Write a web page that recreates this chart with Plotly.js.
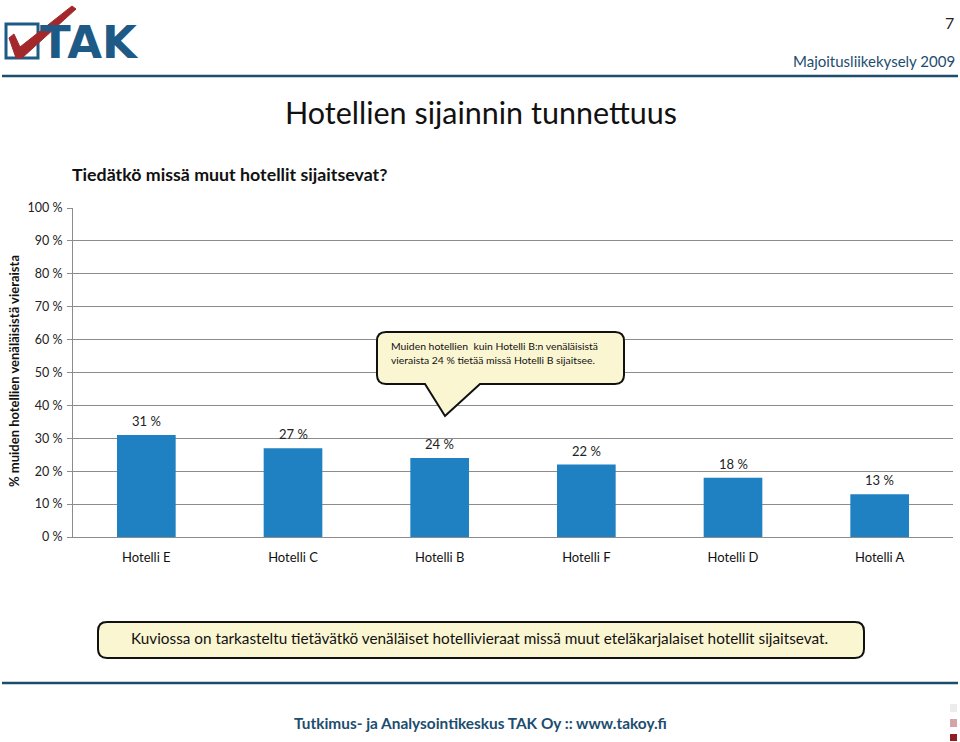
<!DOCTYPE html>
<html>
<head>
<meta charset="utf-8">
<script src="https://cdn.plot.ly/plotly-3.0.1.min.js"></script>
<style>html,body{margin:0;padding:0;background:#fff;}#chart{width:960px;height:742px;}</style>
</head>
<body>
<div id="chart"></div>
<script>
// ---- data ----
const categories = ["Hotelli E", "Hotelli C", "Hotelli B", "Hotelli F", "Hotelli D", "Hotelli A"];
const values = [31, 27, 24, 22, 18, 13];
const yTickVals = [0, 10, 20, 30, 40, 50, 60, 70, 80, 90, 100];
const yTickText = ["0 %", "10 %", "20 %", "30 %", "40 %", "50 %", "60 %", "70 %", "80 %", "90 %", "100 %"];
const pageTitle = "Hotellien sijainnin tunnettuus";
const question = "Tiedätkö missä muut hotellit sijaitsevat?";
const yTitle = "% muiden hotellien venäläisistä vieraista";
const calloutText = "Muiden hotellien  kuin Hotelli B:n venäläisistä<br>vieraista 24 % tietää missä Hotelli B sijaitsee.";
const noteText = "Kuviossa on tarkasteltu tietävätkö venäläiset hotellivieraat missä muut eteläkarjalaiset hotellit sijaitsevat.";
const footerText = "Tutkimus- ja Analysointikeskus TAK Oy :: www.takoy.fi";
const surveyText = "Majoitusliikekysely 2009";
const pageNo = "7";

// ---- geometry helpers (pixel -> paper) ----
const W = 960, H = 742;
const L = 73, R = 953, T = 208, B = 537;
const px = x => (x - L) / (R - L);
const py = y => (B - y) / (B - T);
const P = (x, y) => px(x).toFixed(5) + "," + py(y).toFixed(5);

function roundRect(x0, y0, x1, y1, r) {
  return "M" + P(x0 + r, y0) + " L" + P(x1 - r, y0) + " Q" + P(x1, y0) + " " + P(x1, y0 + r) +
    " L" + P(x1, y1 - r) + " Q" + P(x1, y1) + " " + P(x1 - r, y1) +
    " L" + P(x0 + r, y1) + " Q" + P(x0, y1) + " " + P(x0, y1 - r) +
    " L" + P(x0, y0 + r) + " Q" + P(x0, y0) + " " + P(x0 + r, y0) + " Z";
}
function callout(x0, y0, x1, y1, r, b0, b1, tx, ty) {
  return "M" + P(x0 + r, y0) + " L" + P(x1 - r, y0) + " Q" + P(x1, y0) + " " + P(x1, y0 + r) +
    " L" + P(x1, y1 - r) + " Q" + P(x1, y1) + " " + P(x1 - r, y1) +
    " L" + P(b1, y1) + " L" + P(tx, ty) + " L" + P(b0, y1) +
    " L" + P(x0 + r, y1) + " Q" + P(x0, y1) + " " + P(x0, y1 - r) +
    " L" + P(x0, y0 + r) + " Q" + P(x0, y0) + " " + P(x0 + r, y0) + " Z";
}

const FONT = "Lato, 'Open Sans', sans-serif";
const DARK = "#1d4d6e";

const trace = {
  type: "bar",
  x: categories,
  y: values,
  marker: {color: "#1f80c2"},
  hoverinfo: "x+y"
};

const shapes = [
  // header & footer rules
  {type: "line", xref: "paper", yref: "paper", x0: px(2), x1: px(958), y0: py(76), y1: py(76), line: {color: DARK, width: 2.5}},
  {type: "line", xref: "paper", yref: "paper", x0: px(2), x1: px(958), y0: py(683), y1: py(683), line: {color: DARK, width: 2.5}},
  // logo box
  {type: "rect", xref: "paper", yref: "paper", x0: px(6), x1: px(38), y0: py(24), y1: py(58), line: {color: "#1e5a86", width: 3}, fillcolor: "rgba(0,0,0,0)"},
  // logo check mark
  {type: "path", xref: "paper", yref: "paper",
   path: "M" + P(9, 38) + " L" + P(14, 34) + " L" + P(20, 47) + " L" + P(72, 6) + " L" + P(76, 9) + " L" + P(22, 58) + " L" + P(16, 58) + " Z",
   fillcolor: "#a3282c", line: {color: "#a3282c", width: 1}},
  // callout
  {type: "path", xref: "paper", yref: "paper", path: callout(377, 332, 624, 384, 9, 425, 480, 445, 416),
   fillcolor: "#fbf6d2", line: {color: "#111", width: 2}},
  // note box
  {type: "path", xref: "paper", yref: "paper", path: roundRect(98, 622, 864, 658, 9),
   fillcolor: "#fbf6d2", line: {color: "#111", width: 2}},
  // decorative squares
  {type: "rect", xref: "paper", yref: "paper", x0: px(950), x1: px(957), y0: py(704), y1: py(712), fillcolor: "#ececec", line: {width: 0}},
  {type: "rect", xref: "paper", yref: "paper", x0: px(950), x1: px(957), y0: py(719), y1: py(727), fillcolor: "#d3a4a8", line: {width: 0}},
  {type: "rect", xref: "paper", yref: "paper", x0: px(950), x1: px(957), y0: py(734), y1: py(741), fillcolor: "#8e1e22", line: {width: 0}}
];

const ann = (text, x, y, opts) => Object.assign({
  text: text, xref: "paper", yref: "paper", x: px(x), y: py(y), showarrow: false,
  xanchor: "center", yanchor: "middle", font: {family: FONT, size: 14, color: "#111"}
}, opts || {});

const annotations = [
  ann("<b>TAK</b>", 89, 42, {font: {family: "'DejaVu Sans', sans-serif", size: 45, color: "#1e5a86"}}),
  ann(pageNo, 956, 22, {xanchor: "right", font: {family: FONT, size: 16, color: "#222"}}),
  ann(surveyText, 957, 61, {xanchor: "right", font: {family: FONT, size: 15, color: DARK}}),
  ann(pageTitle, 481, 112, {font: {family: FONT, size: 30.5, color: "#111"}}),
  ann("<b>" + question + "</b>", 70, 174, {xanchor: "left", font: {family: FONT, size: 17.8, color: "#111"}}),
  ann("<b>" + yTitle + "</b>", 14, 371, {textangle: -90, font: {family: FONT, size: 13, color: "#111"}}),
  ann(calloutText, 389, 353, {xanchor: "left", align: "left", font: {family: FONT, size: 10.4, color: "#111"}}),
  ann(noteText, 479, 638, {font: {family: FONT, size: 15.3, color: "#111"}}),
  ann("<b>" + footerText + "</b>", 480, 723, {font: {family: FONT, size: 15.4, color: DARK}})
].concat(categories.map((c, i) => ({
  text: values[i] + " %", xref: "x", yref: "y", x: c, y: values[i], yshift: 14,
  showarrow: false, xanchor: "center", yanchor: "middle",
  font: {family: FONT, size: 13, color: "#222"}
})));

const layout = {
  width: W, height: H,
  margin: {l: L, r: W - R, t: T, b: H - B, pad: 0},
  paper_bgcolor: "#fff", plot_bgcolor: "#fff",
  showlegend: false,
  bargap: 0.6,
  font: {family: FONT, color: "#111"},
  xaxis: {
    type: "category", showgrid: false, showline: true, linecolor: "#8c8c8c", linewidth: 1,
    ticks: "", tickfont: {family: FONT, size: 13, color: "#111"}, ticklabelstandoff: 8, fixedrange: true
  },
  yaxis: {
    range: [0, 100], tickvals: yTickVals, ticktext: yTickText,
    showgrid: true, gridcolor: "#8c8c8c", gridwidth: 1, zeroline: false,
    showline: true, linecolor: "#8c8c8c", linewidth: 1,
    ticks: "outside", ticklen: 5, tickcolor: "#8c8c8c",
    tickfont: {family: FONT, size: 12.5, color: "#222"}, ticklabelstandoff: 2, fixedrange: true
  },
  shapes: shapes,
  annotations: annotations
};

Plotly.newPlot("chart", [trace], layout, {displayModeBar: false, staticPlot: true});
</script>
</body>
</html>
